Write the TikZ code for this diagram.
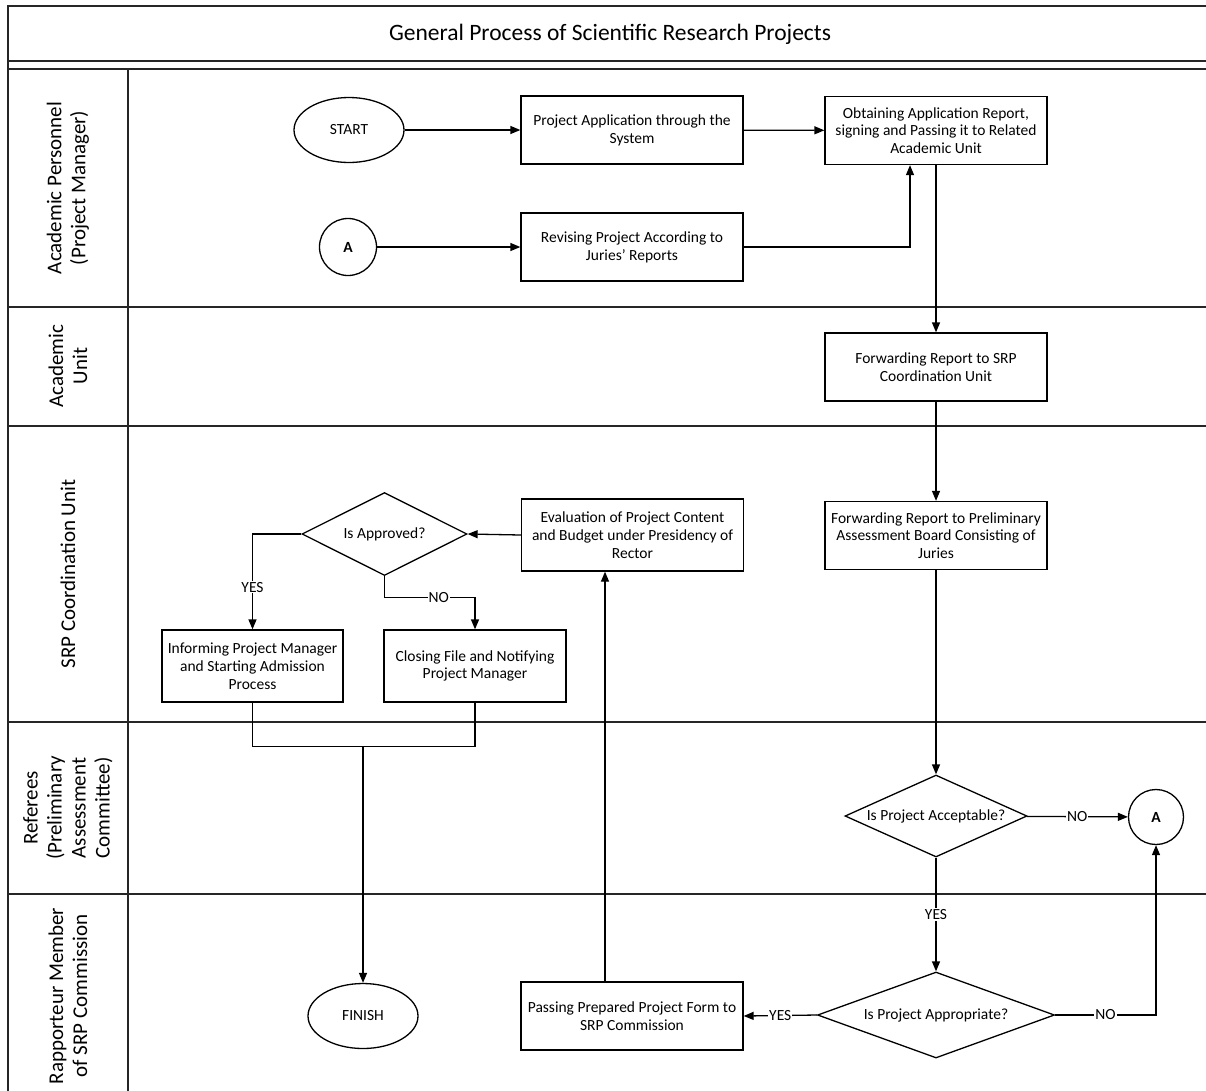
\documentclass[tikz,border=0pt]{standalone}
\usepackage{fontspec}
\setmainfont{Carlito}
\usetikzlibrary{arrows.meta,shapes.geometric}
\begin{document}
\begin{tikzpicture}[x=1pt,y=-1pt,
  frame/.style={line width=1.8pt,draw=black!85},
  lanesep/.style={line width=1.5pt,draw=black!85},
  lanelbl/.style={rotate=90,align=center,font=\fontsize{21}{24}\selectfont,inner sep=0pt},
  stepbox/.style={draw,line width=1.3pt,rectangle,align=center,inner sep=2pt,
     font=\fontsize{15.5}{17.8}\selectfont,minimum width=222pt,minimum height=68pt},
  decis/.style={draw,line width=1.3pt,diamond,align=center,inner sep=0pt,
     font=\fontsize{15.5}{17.8}\selectfont},
  term/.style={draw,line width=1.3pt,ellipse,inner sep=0pt,
     font=\fontsize{15.5}{17.8}\selectfont,minimum width=110pt,minimum height=65pt},
  conn/.style={draw,line width=1.3pt,circle,inner sep=0pt,minimum size=57pt,
     font=\bfseries\fontsize{15.5}{17.8}\selectfont},
  arr/.style={line width=1.3pt,-{Triangle[length=10pt,width=8pt]}},
  ln/.style={line width=1.3pt},
  lbl/.style={fill=white,inner sep=1pt,font=\fontsize{15.5}{17.8}\selectfont}
]
\useasboundingbox (0,0) rectangle (1206,1090);
\clip (0,0) rectangle (1206,1090);
\fill[white] (0,0) rectangle (1206,1090);

% frame
\draw[frame] (8,1100) -- (8,6) -- (1220,6);
\draw[lanesep] (8,61) -- (1220,61);
\draw[lanesep] (8,69) -- (1220,69);
\draw[lanesep] (128,69) -- (128,1100);
\foreach \yy in {307,426,722,894} {\draw[lanesep] (8,\yy) -- (1220,\yy);}

\node[font=\fontsize{23.5}{26}\selectfont] (title) at (610,34) {General Process of Scientific Research Projects};

% lane labels
\node[lanelbl] (l1) at (68,188) {Academic Personnel\\(Project Manager)};
\node[lanelbl] (l2) at (68,366) {Academic\\Unit};
\node[lanelbl] (l3) at (68,574) {SRP Coordination Unit};
\node[lanelbl] (l4) at (68,808) {Referees\\(Preliminary\\Assessment\\Committee)};
\node[lanelbl] (l5) at (68,996) {Rapporteur Member\\of SRP Commission};

% nodes
\node[term] (start) at (349,130) {START};
\node[stepbox] (app) at (632,130) {Project Application through the\\System};
\node[stepbox] (obt) at (936,130.5) {Obtaining Application Report,\\signing and Passing it to Related\\Academic Unit};
\node[conn] (a1) at (348,247) {A};
\node[stepbox] (rev) at (632,247) {Revising Project According to\\Juries' Reports};
\node[stepbox] (fwd1) at (936,367) {Forwarding Report to SRP\\Coordination Unit};
\node[stepbox] (fwd2) at (936,535.5) {Forwarding Report to Preliminary\\Assessment Board Consisting of\\Juries};
\node[decis,aspect=2.2,minimum width=182pt,minimum height=82pt] (acc) at (936,816) {Is Project Acceptable?};
\node[conn,minimum size=55pt] (a2) at (1156,817) {A};
\node[decis,aspect=2.75,minimum width=237pt,minimum height=86pt] (appr) at (936,1015) {Is Project Appropriate?};
\node[stepbox] (pass) at (632,1016) {Passing Prepared Project Form to\\SRP Commission};
\node[term] (fin) at (363,1016) {FINISH};
\node[stepbox,minimum height=72pt] (eval) at (632.5,535) {Evaluation of Project Content\\and Budget under Presidency of\\Rector};
\node[decis,aspect=2,minimum width=165pt,minimum height=83pt] (apv) at (384.5,534) {Is Approved?};
\node[stepbox,minimum width=181pt,minimum height=72pt] (inf) at (252.5,666) {Informing Project Manager\\and Starting Admission\\Process};
\node[stepbox,minimum width=182pt,minimum height=72pt] (clo) at (475,666) {Closing File and Notifying\\Project Manager};

% connectors
\draw[arr] (start) -- (app);
\draw[arr] (app) -- (obt);
\draw[arr] (a1) -- (rev);
\draw[arr] (rev.east) -| ([xshift=-26]obt.south);
\draw[arr] (obt.south) -- (fwd1.north);
\draw[arr] (fwd1) -- (fwd2);
\draw[arr] (fwd2) -- (acc);
\draw[arr] (acc) -- node[lbl,pos=0.5]{NO} (a2);
\draw[arr] (acc) -- node[lbl]{YES} (appr);
\draw[arr] (appr.east) -| node[lbl,pos=0.25]{NO} (a2.south);
\draw[arr] (appr.west) -- node[lbl]{YES} (pass.east);
\coordinate (p1) at ([xshift=-27]pass.north);
\draw[arr] (p1) -- (p1 |- eval.south);
\draw[arr] (eval.west) -- (apv.east);
\draw[arr] (apv.west) -| node[lbl,pos=0.78]{YES} (inf.north);
\draw[arr] (apv.south) -- ++(0,21) coordinate (n1) -| node[lbl,pos=0.3]{NO} (clo.north);
\draw[ln] (inf.south) -- ++(0,44) coordinate (j1) -| (clo.south);
\draw[arr] (j1 -| fin.north) -- (fin.north);
\end{tikzpicture}
\end{document}
